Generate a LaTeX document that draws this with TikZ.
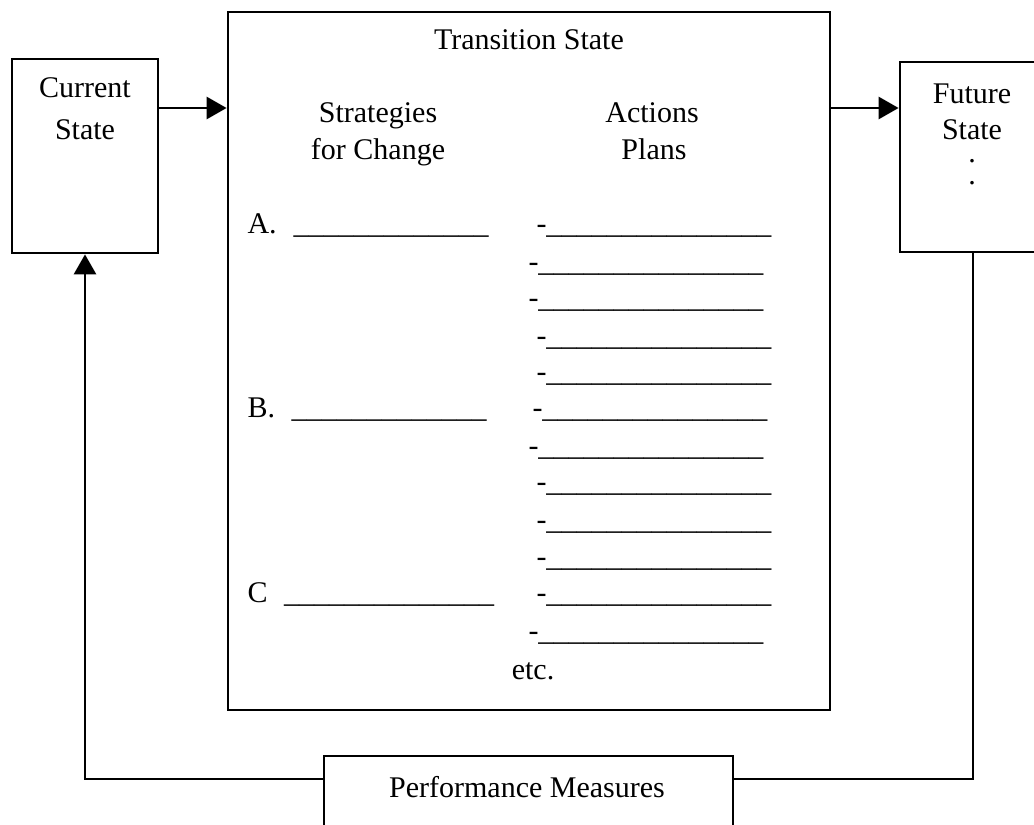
\documentclass[tikz,border=0pt]{standalone}
\usepackage{fontspec}
\setmainfont{Liberation Serif}
\usetikzlibrary{arrows.meta}
\newcommand\usXV{\_\_\_\_\_\_\_\_\_\_\_\_\_\_\_}
\newcommand\usXIII{\_\_\_\_\_\_\_\_\_\_\_\_\_}
\newcommand\usXIV{\_\_\_\_\_\_\_\_\_\_\_\_\_\_}
\begin{document}
\begin{tikzpicture}[x=0.4pt,y=-0.4pt,
  box/.style={draw,line width=1.1pt,inner sep=0pt,fill=white},
  conn/.style={line width=1.1pt},
  arr/.style={line width=1.1pt,-{Triangle[length=8pt,width=8.8pt]}},
  txt/.style={inner sep=0pt,font=\fontsize{12pt}{14pt}\selectfont},
  lbl/.style={txt,anchor=base},
  row/.style={txt,anchor=base west}]
\useasboundingbox (0,0) rectangle (1034,825);
\clip (0,0) rectangle (1034,825);
\fill[white] (0,0) rectangle (1034,825);
% boxes
\node[box,minimum width=58.4pt,minimum height=77.6pt] (cur) at (85,156) {};
\node[box,minimum width=240.8pt,minimum height=279.2pt] (main) at (529,361) {};
\node[box,minimum width=58.4pt,minimum height=76pt] (fut) at (973,157) {};
\node[box,minimum width=163.6pt,minimum height=41.6pt] (perf) at (528.5,808) {};
\coordinate (ya) at (0,108);
\coordinate (yb) at (0,779);
% connectors
\draw[arr] (cur.east |- ya) -- (main.west |- ya);
\draw[arr] (main.east |- ya) -- (fut.west |- ya);
\draw[conn] (fut.south) |- (perf.east |- yb);
\draw[arr] (perf.west |- yb) -| (cur.south);
% labels
\node[lbl] (t1) at (85,98) {Current};
\node[lbl] (t2) at (85,140) {State};
\node[lbl] (t3) at (972,104) {Future};
\node[lbl] (t4) at (972,140) {State};
\node[lbl] (d1) at (972,163) {.};
\node[lbl] (d2) at (972,185) {.};
\node[lbl] (t5) at (529,50) {Transition State};
\node[lbl] (t6) at (378,123) {Strategies};
\node[lbl] (t7) at (378,160) {for Change};
\node[lbl] (t8) at (652,123) {Actions};
\node[lbl] (t9) at (654,160) {Plans};
\node[lbl] (t10) at (527,797) {Performance Measures};
\node[lbl] (t11) at (533,679) {etc.};
% strategies
\node[row] (sa) at (247,234) {A.\hspace{6.8pt}\usXIII};
\node[row] (sb) at (247,418) {B.\hspace{6.6pt}\usXIII};
\node[row] (sc) at (247,603) {C\hspace{6.6pt}\usXIV};
% action plans
\foreach \x/\y [count=\i] in {536/234,528/272,528/308,536/346,536/382,532/418,528/456,536/492,536/530,536/566,536/602,528/640}
  \node[row] (a\i) at (\x,\y) {-\usXV};
\end{tikzpicture}
\end{document}
